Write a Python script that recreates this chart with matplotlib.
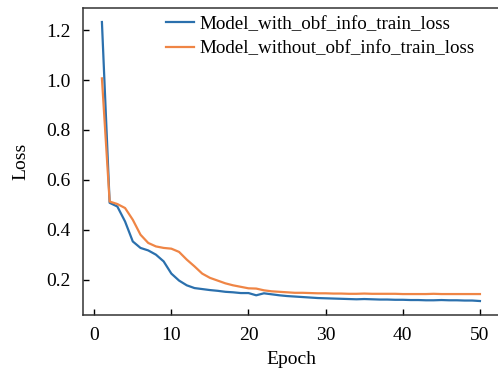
import matplotlib
matplotlib.use("Agg")
import matplotlib.pyplot as plt

epochs = list(range(1, 51))

with_obf = [
    1.233, 0.508, 0.493, 0.433, 0.353, 0.327, 0.317, 0.300, 0.273, 0.224,
    0.196, 0.177, 0.166, 0.162, 0.158, 0.155, 0.151, 0.149, 0.146, 0.146,
    0.137, 0.145, 0.141, 0.137, 0.134, 0.132, 0.130, 0.128, 0.126, 0.125,
    0.124, 0.123, 0.122, 0.121, 0.122, 0.121, 0.120, 0.120, 0.119, 0.119,
    0.118, 0.118, 0.117, 0.117, 0.118, 0.117, 0.117, 0.116, 0.116, 0.114,
]
without_obf = [
    1.007, 0.513, 0.503, 0.487, 0.440, 0.380, 0.347, 0.333, 0.327, 0.324,
    0.311, 0.280, 0.253, 0.224, 0.207, 0.196, 0.185, 0.177, 0.171, 0.165,
    0.164, 0.157, 0.153, 0.151, 0.149, 0.147, 0.147, 0.146, 0.145, 0.145,
    0.144, 0.144, 0.143, 0.143, 0.144, 0.143, 0.143, 0.143, 0.143, 0.142,
    0.142, 0.142, 0.142, 0.143, 0.142, 0.142, 0.142, 0.142, 0.142, 0.142,
]
labels = ["Model_with_obf_info_train_loss", "Model_without_obf_info_train_loss"]

plt.rcParams["font.family"] = ["Liberation Serif", "DejaVu Serif"]
plt.rcParams["font.size"] = 14

fig = plt.figure(figsize=(4.98, 3.78), dpi=100)
ax = fig.add_axes([0.1667, 0.1667, 0.835, 0.812])

ax.plot(epochs, with_obf, color="#2b70ad", lw=1.6, label=labels[0])
ax.plot(epochs, without_obf, color="#ef8545", lw=1.6, label=labels[1])

ax.set_xticks([0, 10, 20, 30, 40, 50])
ax.set_yticks([0.2, 0.4, 0.6, 0.8, 1.0, 1.2])
ax.tick_params(direction="in", length=4, width=1, pad=9)
for s in ax.spines.values():
    s.set_linewidth(1.1)
    s.set_color("#333333")

ax.set_xlabel("Epoch", labelpad=5)
ax.set_ylabel("Loss", labelpad=12)

ax.legend(loc="upper right", bbox_to_anchor=(0.96, 1.0), frameon=False,
          fontsize=13.7, handlelength=1.45, handletextpad=0.3,
          labelspacing=0.38, borderaxespad=0.0)

fig.savefig("out.png", dpi=100)
